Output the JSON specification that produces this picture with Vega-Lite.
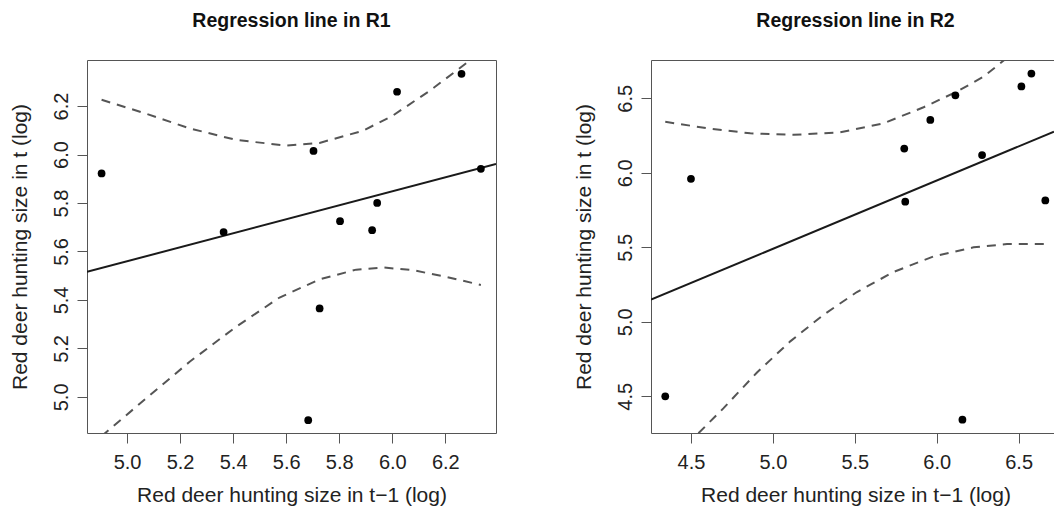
{
  "$schema": "https://vega.github.io/schema/vega-lite/v6.json",
  "background": "white",
  "padding": {"left": 8, "top": 10, "right": 0, "bottom": 0},
  "spacing": 76,
  "config": {
    "view": {"stroke": "#555", "strokeWidth": 1},
    "font": "Liberation Sans",
    "axis": {
      "labelFont": "Liberation Sans", "labelFontSize": 20, "labelColor": "#222",
      "titleFont": "Liberation Sans", "titleFontSize": 21, "titleFontWeight": "normal", "titleColor": "#222",
      "tickColor": "#555", "tickSize": 10, "tickWidth": 1, "domainColor": "#555", "domainWidth": 1,
      "grid": false, "labelPadding": 9, "titlePadding": 12, "labelFlush": false
    },
    "axisY": {"labelAngle": -90, "labelAlign": "center", "labelBaseline": "bottom", "labelPadding": 6, "titlePadding": 21},
    "title": {"font": "Liberation Sans", "fontSize": 19.5, "fontWeight": "bold", "color": "#111", "anchor": "middle", "offset": 29}
  },
  "datasets": {
    "r1_pts": [
      {"x": 4.904, "y": 5.922}, {"x": 5.364, "y": 5.680}, {"x": 5.703, "y": 6.015},
      {"x": 5.683, "y": 4.904}, {"x": 5.726, "y": 5.365}, {"x": 5.803, "y": 5.725},
      {"x": 5.924, "y": 5.688}, {"x": 5.943, "y": 5.800}, {"x": 6.018, "y": 6.259},
      {"x": 6.261, "y": 6.333}, {"x": 6.334, "y": 5.941}
    ],
    "r1_fit": [{"x": 4.849, "y": 5.516}, {"x": 6.391, "y": 5.961}],
    "r1_band": [
      {"band": "upper", "x": 4.904, "y": 6.226}, {"band": "upper", "x": 5.073, "y": 6.168},
      {"band": "upper", "x": 5.236, "y": 6.108}, {"band": "upper", "x": 5.412, "y": 6.060},
      {"band": "upper", "x": 5.600, "y": 6.037}, {"band": "upper", "x": 5.726, "y": 6.048},
      {"band": "upper", "x": 5.889, "y": 6.098}, {"band": "upper", "x": 6.001, "y": 6.160},
      {"band": "upper", "x": 6.140, "y": 6.262}, {"band": "upper", "x": 6.290, "y": 6.386},
      {"band": "upper", "x": 6.334, "y": 6.425},
      {"band": "lower", "x": 4.904, "y": 4.838}, {"band": "lower", "x": 5.073, "y": 4.995},
      {"band": "lower", "x": 5.236, "y": 5.145}, {"band": "lower", "x": 5.412, "y": 5.290},
      {"band": "lower", "x": 5.575, "y": 5.410}, {"band": "lower", "x": 5.726, "y": 5.485},
      {"band": "lower", "x": 5.864, "y": 5.525}, {"band": "lower", "x": 5.964, "y": 5.534},
      {"band": "lower", "x": 6.077, "y": 5.523}, {"band": "lower", "x": 6.203, "y": 5.495},
      {"band": "lower", "x": 6.334, "y": 5.462}
    ],
    "r2_pts": [
      {"x": 4.343, "y": 4.500}, {"x": 4.500, "y": 5.960}, {"x": 5.802, "y": 6.163},
      {"x": 5.808, "y": 5.806}, {"x": 5.961, "y": 6.355}, {"x": 6.114, "y": 6.520},
      {"x": 6.157, "y": 4.343}, {"x": 6.277, "y": 6.119}, {"x": 6.517, "y": 6.580},
      {"x": 6.578, "y": 6.666}, {"x": 6.663, "y": 5.815}
    ],
    "r2_fit": [{"x": 4.256, "y": 5.149}, {"x": 6.716, "y": 6.276}],
    "r2_band": [
      {"band": "upper", "x": 4.343, "y": 6.342}, {"band": "upper", "x": 4.598, "y": 6.299},
      {"band": "upper", "x": 4.862, "y": 6.265}, {"band": "upper", "x": 5.126, "y": 6.255},
      {"band": "upper", "x": 5.411, "y": 6.272}, {"band": "upper", "x": 5.676, "y": 6.332},
      {"band": "upper", "x": 5.920, "y": 6.440}, {"band": "upper", "x": 6.124, "y": 6.545},
      {"band": "upper", "x": 6.286, "y": 6.645}, {"band": "upper", "x": 6.399, "y": 6.745},
      {"band": "upper", "x": 6.663, "y": 6.980},
      {"band": "lower", "x": 4.343, "y": 4.020}, {"band": "lower", "x": 4.547, "y": 4.254},
      {"band": "lower", "x": 4.699, "y": 4.421}, {"band": "lower", "x": 4.903, "y": 4.660},
      {"band": "lower", "x": 5.106, "y": 4.869}, {"band": "lower", "x": 5.310, "y": 5.048},
      {"band": "lower", "x": 5.513, "y": 5.200}, {"band": "lower", "x": 5.737, "y": 5.335},
      {"band": "lower", "x": 5.981, "y": 5.439}, {"band": "lower", "x": 6.225, "y": 5.500},
      {"band": "lower", "x": 6.429, "y": 5.522}, {"band": "lower", "x": 6.663, "y": 5.522}
    ]
  },
  "hconcat": [
    {
      "width": 409,
      "height": 373,
      "title": {"text": "Regression line in R1"},
      "layer": [
        {
          "data": {"name": "r1_band"},
          "mark": {"type": "line", "clip": true, "strokeDash": [9, 7], "strokeWidth": 2, "color": "#555"},
          "encoding": {
            "x": {"field": "x", "type": "quantitative", "scale": {"domain": [4.849, 6.391], "nice": false, "zero": false},
              "axis": {"values": [5.0, 5.2, 5.4, 5.6, 5.8, 6.0, 6.2], "format": ".1f", "domain": false, "title": "Red deer hunting size in t\u22121 (log)"}},
            "y": {"field": "y", "type": "quantitative", "scale": {"domain": [4.851, 6.39], "nice": false, "zero": false},
              "axis": {"values": [5.0, 5.2, 5.4, 5.6, 5.8, 6.0, 6.2], "format": ".1f", "domain": false, "title": "Red deer hunting size in t (log)"}},
            "detail": {"field": "band", "type": "nominal"}
          }
        },
        {
          "data": {"name": "r1_fit"},
          "mark": {"type": "line", "clip": true, "strokeWidth": 2, "color": "#1a1a1a"},
          "encoding": {
            "x": {"field": "x", "type": "quantitative", "scale": {"domain": [4.849, 6.391], "nice": false, "zero": false}},
            "y": {"field": "y", "type": "quantitative", "scale": {"domain": [4.851, 6.39], "nice": false, "zero": false}}
          }
        },
        {
          "data": {"name": "r1_pts"},
          "mark": {"type": "point", "filled": true, "size": 60, "color": "black", "opacity": 1},
          "encoding": {
            "x": {"field": "x", "type": "quantitative", "scale": {"domain": [4.849, 6.391], "nice": false, "zero": false}},
            "y": {"field": "y", "type": "quantitative", "scale": {"domain": [4.851, 6.39], "nice": false, "zero": false}}
          }
        }
      ]
    },
    {
      "width": 403,
      "height": 373,
      "title": {"text": "Regression line in R2", "dx": 3},
      "view": {"stroke": null},
      "resolve": {"axis": {"x": "independent"}},
      "layer": [
        {
          "data": {"name": "r2_band"},
          "mark": {"type": "line", "clip": true, "strokeDash": [9, 7], "strokeWidth": 2, "color": "#555"},
          "encoding": {
            "x": {"field": "x", "type": "quantitative", "scale": {"domain": [4.256, 6.716], "nice": false, "zero": false}, "axis": null},
            "y": {"field": "y", "type": "quantitative", "scale": {"domain": [4.254, 6.757], "nice": false, "zero": false},
              "axis": {"values": [4.5, 5.0, 5.5, 6.0, 6.5], "format": ".1f", "domain": true, "title": "Red deer hunting size in t (log)"}},
            "detail": {"field": "band", "type": "nominal"}
          }
        },
        {
          "data": {"name": "r2_fit"},
          "mark": {"type": "line", "clip": true, "strokeWidth": 2, "color": "#1a1a1a"},
          "encoding": {
            "x": {"field": "x", "type": "quantitative", "scale": {"domain": [4.256, 6.716], "nice": false, "zero": false},
              "axis": {"orient": "top", "labels": false, "ticks": false, "title": null, "domain": true}},
            "y": {"field": "y", "type": "quantitative", "scale": {"domain": [4.254, 6.757], "nice": false, "zero": false},
              "axis": {"values": [4.5, 5.0, 5.5, 6.0, 6.5], "format": ".1f", "domain": true, "title": "Red deer hunting size in t (log)"}}
          }
        },
        {
          "data": {"name": "r2_pts"},
          "mark": {"type": "point", "filled": true, "size": 60, "color": "black", "opacity": 1},
          "encoding": {
            "x": {"field": "x", "type": "quantitative", "scale": {"domain": [4.256, 6.716], "nice": false, "zero": false},
              "axis": {"values": [4.5, 5.0, 5.5, 6.0, 6.5], "format": ".1f", "domain": true, "titleX": 204.5, "title": "Red deer hunting size in t\u22121 (log)"}},
            "y": {"field": "y", "type": "quantitative", "scale": {"domain": [4.254, 6.757], "nice": false, "zero": false},
              "axis": {"values": [4.5, 5.0, 5.5, 6.0, 6.5], "format": ".1f", "domain": true, "title": "Red deer hunting size in t (log)"}}
          }
        }
      ]
    }
  ]
}
